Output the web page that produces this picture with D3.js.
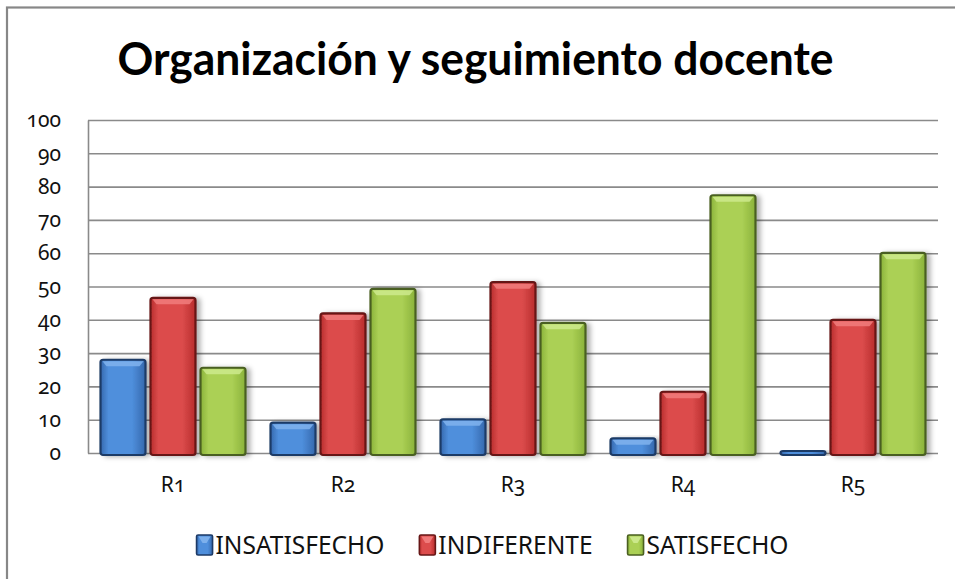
<!DOCTYPE html>
<html>
<head>
<meta charset="utf-8">
<script src="https://cdn.jsdelivr.net/npm/d3@7"></script>
<style>
  body { margin: 0; background: #fff; }
  text { font-family: "Noto Sans", sans-serif; }
</style>
</head>
<body>
<div id="chart"></div>
<script>
const categories = ["R1", "R2", "R3", "R4", "R5"];
const seriesNames = ["INSATISFECHO", "INDIFERENTE", "SATISFECHO"];
const insatisfecho = [28, 9.1, 10.1, 4.4, 0.6];
const indiferente = [46.6, 41.9, 51.3, 18.4, 40];
const satisfecho = [25.6, 49.3, 39.1, 77.4, 60.1];
const yTicks = [0, 10, 20, 30, 40, 50, 60, 70, 80, 90, 100];
const title = "Organización y seguimiento docente";

const W = 955, H = 579;
const margin = {top: 120, right: 17, bottom: 126, left: 88};
const width = W - margin.left - margin.right,
      height = H - margin.top - margin.bottom;

const palette = {
  INSATISFECHO: {edge: "#3568ad", mid: "#4f8fdc", top: "#7db0ec", stroke: "#1d3a66"},
  INDIFERENTE:  {edge: "#b82c2c", mid: "#dc4c4c", top: "#f07a7a", stroke: "#661616"},
  SATISFECHO:   {edge: "#8ab23a", mid: "#abd055", top: "#cbe88a", stroke: "#4a5f20"}
};

const data = categories.map((c, i) => ({
  cat: c,
  values: [
    {key: seriesNames[0], v: insatisfecho[i]},
    {key: seriesNames[1], v: indiferente[i]},
    {key: seriesNames[2], v: satisfecho[i]}
  ]
}));

const svg = d3.select("#chart").append("svg")
  .attr("width", W).attr("height", H);

const defs = svg.append("defs");
seriesNames.forEach((s, i) => {
  const p = palette[s];
  const g = defs.append("linearGradient").attr("id", "grad" + i)
    .attr("x1", "0%").attr("x2", "100%").attr("y1", "0%").attr("y2", "0%");
  g.append("stop").attr("offset", "0%").attr("stop-color", p.edge);
  g.append("stop").attr("offset", "18%").attr("stop-color", p.mid);
  g.append("stop").attr("offset", "70%").attr("stop-color", p.mid);
  g.append("stop").attr("offset", "100%").attr("stop-color", p.edge);
});
const shadow = defs.append("filter").attr("id", "shadow")
  .attr("x", "-20%").attr("y", "-20%").attr("width", "160%").attr("height", "140%");
shadow.append("feDropShadow").attr("dx", 4).attr("dy", 1)
  .attr("stdDeviation", 2.5).attr("flood-color", "#000").attr("flood-opacity", 0.3);

// outer chart border (right/bottom fall outside the picture)
svg.append("rect")
  .attr("x", 7).attr("y", 7.5).attr("width", W + 20).attr("height", H + 20)
  .attr("fill", "none").attr("stroke", "#878787").attr("stroke-width", 2.2);

// title
svg.append("text")
  .attr("x", W / 2 - 2).attr("y", 75)
  .attr("text-anchor", "middle")
  .style("font-family", "Lato, 'Open Sans', sans-serif")
  .style("font-weight", "bold")
  .style("font-size", "45px")
  .attr("textLength", 716).attr("lengthAdjust", "spacingAndGlyphs")
  .text(title);

const g = svg.append("g")
  .attr("transform", `translate(${margin.left}, ${margin.top})`);

const x0 = d3.scaleBand()
  .domain(categories)
  .range([0, width])
  .paddingInner(20 / 170)
  .paddingOuter(10 / 170);

const x1 = d3.scaleBand()
  .domain(seriesNames)
  .range([0, x0.bandwidth()])
  .paddingInner(0.1)
  .paddingOuter(0.05);

const y = d3.scaleLinear().domain([0, 100]).range([height, 0]);

// gridlines
g.append("g")
  .call(d3.axisLeft(y).tickValues(yTicks).tickSize(-width).tickFormat(""))
  .call(a => a.select(".domain").remove())
  .call(a => a.selectAll(".tick line")
    .attr("stroke", "#8a8a8a").attr("stroke-width", 1.6));

// y axis labels
g.append("g")
  .call(d3.axisLeft(y).tickValues(yTicks).tickSize(0).tickPadding(27))
  .call(a => a.select(".domain").attr("stroke", "#8a8a8a").attr("stroke-width", 1.6))
  .call(a => a.selectAll("text")
    .style("font-size", "21px")
    .style("font-variant-numeric", "oldstyle-nums")
    .attr("fill", "#111"));

// x axis labels
g.append("g")
  .attr("transform", `translate(0, ${height})`)
  .call(d3.axisBottom(x0).tickSize(0).tickPadding(24))
  .call(a => a.select(".domain").remove())
  .call(a => a.selectAll("text")
    .style("font-size", "21px")
    .style("font-variant-numeric", "oldstyle-nums")
    .attr("fill", "#111"));

// bars
const bars = g.append("g").selectAll("g")
  .data(data)
  .join("g")
    .attr("transform", d => `translate(${x0(d.cat)}, 0)`)
  .selectAll("g")
  .data(d => d.values)
  .join("g")
    .attr("transform", d => `translate(${x1(d.key)}, 0)`);

bars.append("rect")
  .attr("x", 0)
  .attr("y", d => y(d.v))
  .attr("width", x1.bandwidth())
  .attr("height", d => y(0) - y(d.v) + 2)
  .attr("rx", 2.5)
  .attr("fill", d => "url(#grad" + seriesNames.indexOf(d.key) + ")")
  .attr("stroke", d => palette[d.key].stroke)
  .attr("stroke-width", 2.2)
  .attr("filter", "url(#shadow)");

// bevel highlight on top
bars.append("path")
  .attr("d", d => {
    const w = x1.bandwidth();
    const t = y(d.v) + 1.5;
    const h = Math.min(5, Math.max(0, y(0) - y(d.v) - 2));
    return `M2,${t} L${w - 2},${t} L${w - 6},${t + h} L6,${t + h} Z`;
  })
  .attr("fill", d => palette[d.key].top)
  .attr("opacity", 0.9);

// legend
const legend = svg.append("g").attr("transform", "translate(0, 545)");
const items = legend.selectAll("g")
  .data(seriesNames)
  .join("g");
items.append("rect")
  .attr("x", 0).attr("y", -10).attr("width", 16).attr("height", 20).attr("rx", 1.5)
  .attr("fill", (d, i) => "url(#grad" + i + ")")
  .attr("stroke", d => palette[d].stroke).attr("stroke-width", 1.6);
items.append("path")
  .attr("d", "M2,-8.5 L14,-8.5 L10,-2 L6,-2 Z")
  .attr("fill", d => palette[d].top);
items.append("text")
  .attr("x", 19).attr("y", 8.5)
  .style("font-size", "24.5px")
  .attr("fill", "#111")
  .text(d => d);
let lx = 0;
const widths = [];
items.each(function() { widths.push(this.getBBox().width); });
const gap = 35;
const total = d3.sum(widths) + gap * (widths.length - 1);
lx = (W - total) / 2 + 15;
items.attr("transform", (d, i) => {
  const t = `translate(${lx}, 0)`;
  lx += widths[i] + gap;
  return t;
});
</script>
</body>
</html>
